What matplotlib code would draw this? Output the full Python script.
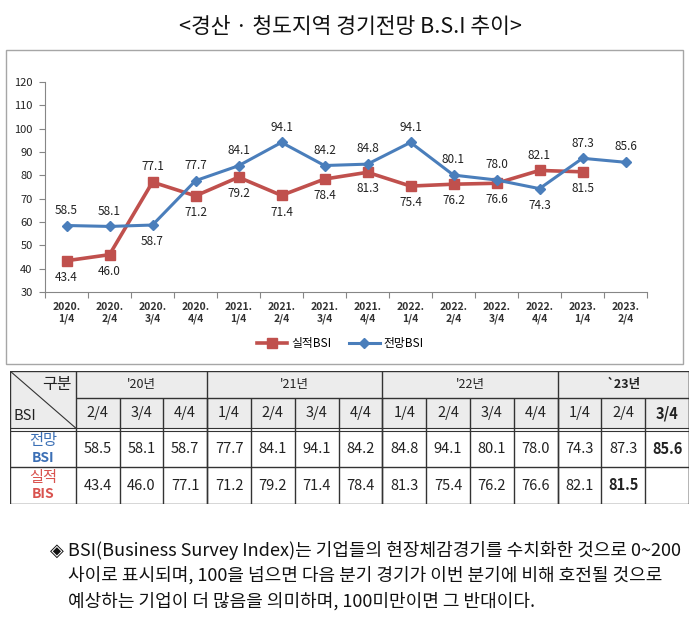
import matplotlib
matplotlib.use('Agg')
import matplotlib.pyplot as plt
from matplotlib.patches import Rectangle

plt.rcParams['font.family'] = ['Noto Sans CJK KR', 'DejaVu Sans']

# 차트 데이터
quarters = ['2020.\n1/4', '2020.\n2/4', '2020.\n3/4', '2020.\n4/4',
            '2021.\n1/4', '2021.\n2/4', '2021.\n3/4', '2021.\n4/4',
            '2022.\n1/4', '2022.\n2/4', '2022.\n3/4', '2022.\n4/4',
            '2023.\n1/4', '2023.\n2/4']
outlook = [58.5, 58.1, 58.7, 77.7, 84.1, 94.1, 84.2, 84.8, 94.1, 80.1, 78.0, 74.3, 87.3, 85.6]
actual = [43.4, 46.0, 77.1, 71.2, 79.2, 71.4, 78.4, 81.3, 75.4, 76.2, 76.6, 82.1, 81.5]

# 표 데이터
years = ["'20년", "'21년", "'22년", "`23년"]
year_span = [3, 4, 4, 3]
tab_q = ['2/4', '3/4', '4/4', '1/4', '2/4', '3/4', '4/4',
         '1/4', '2/4', '3/4', '4/4', '1/4', '2/4', '3/4']
tab_outlook = ['58.5', '58.1', '58.7', '77.7', '84.1', '94.1', '84.2',
               '84.8', '94.1', '80.1', '78.0', '74.3', '87.3', '85.6']
tab_actual = ['43.4', '46.0', '77.1', '71.2', '79.2', '71.4', '78.4',
              '81.3', '75.4', '76.2', '76.6', '82.1', '81.5', '']

note = ['◈ BSI(Business Survey Index)는 기업들의 현장체감경기를 수치화한 것으로 0~200',
        '사이로 표시되며, 100을 넘으면 다음 분기 경기가 이번 분기에 비해 호전될 것으로',
        '예상하는 기업이 더 많음을 의미하며, 100미만이면 그 반대이다.']

RED = '#c0504d'
BLUE = '#4a7ebb'
W, H = 700, 619

fig = plt.figure(figsize=(7, 6.19), dpi=100)

fig.text(0.5, 1 - 27 / H, '<경산 · 청도지역 경기전망 B.S.I 추이>', ha='center', va='center',
         fontsize=15.5, color='#111111')

# 차트 테두리
fig.add_artist(Rectangle((6 / W, 1 - 364 / H), 677 / W, 314 / H, transform=fig.transFigure,
                         fill=False, edgecolor='#a6a6a6', linewidth=1))

ax = fig.add_axes([45 / W, 1 - 292 / H, 602 / W, 210 / H])
x = list(range(len(quarters)))
ax.plot(x[:len(actual)], actual, color=RED, lw=2.6, marker='s', ms=7.5, label='실적BSI', zorder=3)
ax.plot(x, outlook, color=BLUE, lw=2.2, marker='D', ms=5.5, label='전망BSI', zorder=4)

for i in x:
    o = outlook[i]
    if i < len(actual):
        a = actual[i]
        ax.annotate(f'{a:.1f}', (i, a), xytext=(0, 11 if a > o else -12), textcoords='offset points',
                    ha='center', va='center', fontsize=8.5, color='#222222')
        ax.annotate(f'{o:.1f}', (i, o), xytext=(0, 11 if o >= a else -12), textcoords='offset points',
                    ha='center', va='center', fontsize=8.5, color='#222222')
    else:
        ax.annotate(f'{o:.1f}', (i, o), xytext=(0, 11), textcoords='offset points',
                    ha='center', va='center', fontsize=8.5, color='#222222')

ax.set_xlim(-0.5, len(quarters) - 0.5)
ax.set_ylim(30, 120)
ax.set_yticks(range(30, 121, 10))
ax.set_xticks([i - 0.5 for i in range(len(quarters) + 1)])
ax.set_xticklabels([])
ax.set_xticks(x, minor=True)
ax.set_xticklabels(quarters, minor=True, fontsize=7.5, fontweight='bold', color='#333333')
ax.tick_params(axis='x', which='minor', length=0, pad=7)
ax.tick_params(axis='x', which='major', length=4, color='#868686', direction='out')
ax.tick_params(axis='y', length=4, color='#868686', labelsize=8, labelcolor='#222222', pad=5)
for s in ['top', 'right']:
    ax.spines[s].set_visible(False)
for s in ['left', 'bottom']:
    ax.spines[s].set_color('#868686')
ax.legend(loc='center', bbox_to_anchor=(0.49, -0.245), ncol=2, frameon=False, fontsize=8.5,
          handlelength=2.6, columnspacing=1.5, handletextpad=0.3)

# 표
tab = fig.add_axes([10 / W, 1 - 504 / H, 679 / W, 133 / H])
first = 1.5
ncol = len(tab_q)
tw = first + ncol
rows = [0, 27, 58, 96, 133]
tab.set_xlim(0, tw)
tab.set_ylim(133, 0)
tab.axis('off')
lc = '#333333'
tab.add_patch(Rectangle((0, 0), tw, rows[2], facecolor='#ececec', edgecolor='none'))
tab.hlines([0, rows[3], rows[4]], 0, tw, color=lc, lw=1)
tab.hlines([rows[2] - 1, rows[2] + 1.5], 0, tw, color=lc, lw=0.8)
tab.hlines(rows[1], first, tw, color=lc, lw=1)
tab.vlines([0, first, tw], 0, rows[4], color=lc, lw=1)
tab.plot([0, first], [0, rows[2] - 1], color=lc, lw=0.8)

pos = first
for name, span in zip(years, year_span):
    tab.text(pos + span / 2, (rows[0] + rows[1]) / 2, name, ha='center', va='center', fontsize=9,
             fontweight='bold' if name.startswith('`') else 'normal', color='#222222')
    pos += span
    tab.vlines(pos, 0, rows[4], color=lc, lw=1)
for j in range(ncol):
    cx = first + j + 0.5
    if j > 0:
        tab.vlines(first + j, rows[1], rows[4], color=lc, lw=1)
    bold = 'bold' if j == ncol - 1 else 'normal'
    tab.text(cx, (rows[1] + rows[2]) / 2, tab_q[j], ha='center', va='center', fontsize=10.5,
             fontweight=bold, color='#222222')
    tab.text(cx, (rows[2] + rows[3]) / 2 + 1, tab_outlook[j], ha='center', va='center', fontsize=10.5,
             fontweight=bold, color='#222222')
    tab.text(cx, (rows[3] + rows[4]) / 2, tab_actual[j], ha='center', va='center', fontsize=10.5,
             fontweight='bold' if j == ncol - 2 else 'normal', color='#222222')

tab.text(first - 0.1, 13, '구분', ha='right', va='center', fontsize=11.5, color='#222222')
tab.text(0.08, 45, 'BSI', ha='left', va='center', fontsize=10.5, color='#222222')
tab.text(first / 2, 70, '전망', ha='center', va='center', fontsize=11, color='#3b6fb5')
tab.text(first / 2, 86.5, 'BSI', ha='center', va='center', fontsize=10, fontweight='bold', color='#3b6fb5')
tab.text(first / 2, 106.5, '실적', ha='center', va='center', fontsize=11, color='#d9534f')
tab.text(first / 2, 123, 'BIS', ha='center', va='center', fontsize=10, fontweight='bold', color='#d9534f')

# 주석
fig.text(50 / W, 1 - 550 / H, note[0], ha='left', va='center', fontsize=13, color='#111111')
fig.text(68 / W, 1 - 575 / H, note[1], ha='left', va='center', fontsize=13, color='#111111')
fig.text(68 / W, 1 - 601 / H, note[2], ha='left', va='center', fontsize=13, color='#111111')

fig.savefig('out.png', dpi=100, facecolor='white')
